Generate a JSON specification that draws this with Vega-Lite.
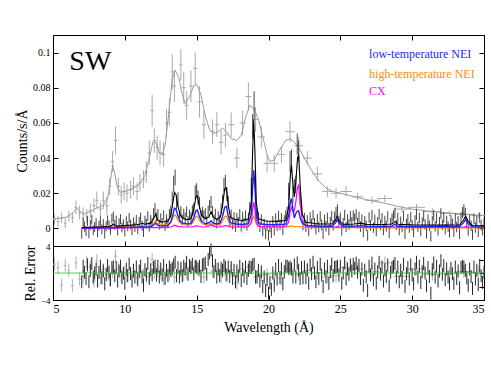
{
"$schema":"https://vega.github.io/schema/vega-lite/v6.json",
"background":"white",
"padding":{"left":15,"top":34,"right":5,"bottom":5},
"config":{"view":{"stroke":"#000","strokeWidth":1},"axis":{"domain":false,"grid":false,"tickColor":"#000","labelColor":"#000","titleColor":"#000","labelFont":"Liberation Serif","titleFont":"Liberation Serif","titleFontWeight":"normal","labelFontSize":11,"titleFontSize":14,"tickSize":-5,"labelPadding":8}},
"datasets":{
"mos":[
{"x":5.1,"y":0.005,"e":0.003,"xe":0.1,"r":1.3},{"x":5.35,"y":0.004,"e":0.003,"xe":0.1,"r":0.8},{"x":5.6,"y":0.006,"e":0.003,"xe":0.1,"r":-1.8},{"x":5.85,"y":0.003,"e":0.003,"xe":0.1,"r":1.1},{"x":6.1,"y":0.007,"e":0.003,"xe":0.1,"r":0.4},{"x":6.35,"y":0.006,"e":0.003,"xe":0.1,"r":-1.9},{"x":6.6,"y":0.012,"e":0.004,"xe":0.1,"r":1.5},{"x":6.85,"y":0.009,"e":0.004,"xe":0.1,"r":-0.9},
{"x":7.1,"y":0.008,"e":0.004,"xe":0.1,"r":-0.5},{"x":7.35,"y":0.007,"e":0.004,"xe":0.1,"r":1.6},{"x":7.6,"y":0.01,"e":0.004,"xe":0.12,"r":0.9},{"x":7.85,"y":0.013,"e":0.004,"xe":0.12,"r":-1.2},{"x":8.05,"y":0.016,"e":0.005,"xe":0.12,"r":1.8},{"x":8.3,"y":0.011,"e":0.004,"xe":0.12,"r":-0.8},{"x":8.5,"y":0.016,"e":0.005,"xe":0.12,"r":0.5},{"x":8.75,"y":0.013,"e":0.005,"xe":0.12,"r":-0.3},{"x":8.95,"y":0.024,"e":0.005,"xe":0.12,"r":-1.0},{"x":9.15,"y":0.038,"e":0.006,"xe":0.12,"r":0.2},{"x":9.35,"y":0.05,"e":0.008,"xe":0.12,"r":2.5},{"x":9.55,"y":0.024,"e":0.005,"xe":0.12,"r":0.6},{"x":9.75,"y":0.019,"e":0.005,"xe":0.12,"r":-0.4},{"x":9.95,"y":0.021,"e":0.005,"xe":0.12,"r":0.0},
{"x":10.15,"y":0.02,"e":0.005,"xe":0.12,"r":-0.4},{"x":10.4,"y":0.022,"e":0.005,"xe":0.12,"r":0.0},{"x":10.6,"y":0.024,"e":0.005,"xe":0.12,"r":0.2},{"x":10.85,"y":0.021,"e":0.005,"xe":0.12,"r":-0.7},{"x":11.05,"y":0.026,"e":0.005,"xe":0.12,"r":0.1},{"x":11.3,"y":0.028,"e":0.005,"xe":0.12,"r":-0.3},{"x":11.5,"y":0.032,"e":0.006,"xe":0.12,"r":-0.5},{"x":11.7,"y":0.043,"e":0.007,"xe":0.12,"r":-0.6},{"x":11.9,"y":0.067,"e":0.009,"xe":0.12,"r":2.0},{"x":12.05,"y":0.05,"e":0.007,"xe":0.12,"r":0.0},{"x":12.25,"y":0.046,"e":0.007,"xe":0.12,"r":0.3},{"x":12.45,"y":0.043,"e":0.007,"xe":0.12,"r":0.0},{"x":12.7,"y":0.042,"e":0.007,"xe":0.12,"r":-0.8},{"x":12.9,"y":0.06,"e":0.008,"xe":0.12,"r":0.3},
{"x":13.1,"y":0.066,"e":0.008,"xe":0.12,"r":-0.2},{"x":13.3,"y":0.089,"e":0.01,"xe":0.12,"r":0.4},{"x":13.45,"y":0.081,"e":0.009,"xe":0.12,"r":-0.6},{"x":13.9,"y":0.093,"e":0.009,"xe":0.12,"r":0.3},{"x":14.1,"y":0.08,"e":0.009,"xe":0.15,"r":-0.2},{"x":14.3,"y":0.07,"e":0.008,"xe":0.15,"r":0.0},{"x":14.6,"y":0.081,"e":0.009,"xe":0.15,"r":0.9},{"x":14.9,"y":0.091,"e":0.009,"xe":0.15,"r":1.0},{"x":15.2,"y":0.072,"e":0.009,"xe":0.15,"r":0.4},{"x":15.5,"y":0.059,"e":0.008,"xe":0.15,"r":-0.6},{"x":16.1,"y":0.055,"e":0.007,"xe":0.15,"r":0.3},{"x":16.4,"y":0.059,"e":0.007,"xe":0.15,"r":0.6},{"x":16.7,"y":0.049,"e":0.007,"xe":0.15,"r":-0.6},{"x":17.0,"y":0.053,"e":0.007,"xe":0.15,"r":-0.3},{"x":17.4,"y":0.059,"e":0.007,"xe":0.2,"r":0.4},{"x":17.8,"y":0.04,"e":0.006,"xe":0.2,"r":-1.5},{"x":18.2,"y":0.06,"e":0.007,"xe":0.2,"r":0.6},{"x":18.6,"y":0.075,"e":0.008,"xe":0.2,"r":0.9},{"x":19.1,"y":0.062,"e":0.007,"xe":0.2,"r":-0.6},
{"x":19.5,"y":0.052,"e":0.006,"xe":0.25,"r":-0.3},{"x":19.9,"y":0.037,"e":0.005,"xe":0.25,"r":-0.2},{"x":20.4,"y":0.037,"e":0.005,"xe":0.25,"r":-0.6},{"x":20.9,"y":0.042,"e":0.005,"xe":0.25,"r":-0.8},{"x":21.5,"y":0.055,"e":0.006,"xe":0.3,"r":0.6},{"x":22.1,"y":0.047,"e":0.005,"xe":0.3,"r":-0.2},{"x":22.7,"y":0.04,"e":0.004,"xe":0.3,"r":0.4},{"x":23.4,"y":0.031,"e":0.004,"xe":0.35,"r":0.0},{"x":24.1,"y":0.021,"e":0.003,"xe":0.35,"r":-0.6},{"x":24.7,"y":0.02,"e":0.003,"xe":0.35,"r":-0.4},{"x":25.4,"y":0.021,"e":0.003,"xe":0.4,"r":0.8},{"x":26.2,"y":0.018,"e":0.002,"xe":0.4,"r":0.6},{"x":27.2,"y":0.016,"e":0.002,"xe":0.5,"r":0.2},{"x":28.1,"y":0.017,"e":0.002,"xe":0.5,"r":1.5},{"x":29.3,"y":0.011,"e":0.002,"xe":0.6,"r":-0.5},{"x":30.3,"y":0.012,"e":0.002,"xe":0.6,"r":0.6},{"x":31.4,"y":0.0095,"e":0.002,"xe":0.6,"r":-0.2},{"x":32.6,"y":0.0085,"e":0.0015,"xe":0.6,"r":-0.1},{"x":33.6,"y":0.008,"e":0.0015,"xe":0.6,"r":0.2},{"x":34.6,"y":0.0073,"e":0.0015,"xe":0.5,"r":0.1}
],
"mosmod":[
{"x":5.0,"g":0.0055},{"x":5.5,"g":0.0058},{"x":6.0,"g":0.0065},{"x":6.4,"g":0.009},{"x":6.65,"g":0.0115},{"x":6.9,"g":0.0095},{"x":7.2,"g":0.0085},{"x":7.6,"g":0.0095},{"x":8.0,"g":0.0115},{"x":8.5,"g":0.013},{"x":8.8,"g":0.017},{"x":9.0,"g":0.027},{"x":9.15,"g":0.036},{"x":9.3,"g":0.031},{"x":9.5,"g":0.023},{"x":9.7,"g":0.0205},{"x":10.0,"g":0.021},{"x":10.5,"g":0.0225},{"x":11.0,"g":0.025},{"x":11.4,"g":0.03},{"x":11.7,"g":0.04},{"x":11.95,"g":0.049},{"x":12.15,"g":0.049},{"x":12.4,"g":0.043},{"x":12.6,"g":0.042},{"x":12.8,"g":0.047},{"x":13.05,"g":0.065},{"x":13.3,"g":0.085},{"x":13.5,"g":0.09},{"x":13.75,"g":0.086},{"x":14.0,"g":0.076},{"x":14.2,"g":0.071},{"x":14.5,"g":0.075},{"x":14.8,"g":0.081},{"x":15.0,"g":0.082},{"x":15.3,"g":0.076},{"x":15.6,"g":0.064},{"x":15.9,"g":0.056},{"x":16.2,"g":0.054},{"x":16.5,"g":0.055},{"x":16.8,"g":0.057},{"x":17.1,"g":0.055},{"x":17.4,"g":0.051},{"x":17.8,"g":0.05},{"x":18.1,"g":0.053},{"x":18.4,"g":0.063},{"x":18.7,"g":0.07},{"x":19.0,"g":0.068},{"x":19.3,"g":0.062},{"x":19.6,"g":0.052},{"x":19.9,"g":0.042},{"x":20.1,"g":0.038},{"x":20.4,"g":0.039},{"x":20.8,"g":0.045},{"x":21.2,"g":0.05},{"x":21.5,"g":0.051},{"x":21.8,"g":0.049},{"x":22.1,"g":0.046},{"x":22.5,"g":0.04},{"x":23.0,"g":0.033},{"x":23.5,"g":0.027},{"x":24.0,"g":0.023},{"x":24.5,"g":0.021},{"x":25.0,"g":0.02},{"x":25.5,"g":0.019},{"x":26.0,"g":0.018},{"x":27.0,"g":0.016},{"x":28.0,"g":0.0145},{"x":29.0,"g":0.0125},{"x":30.0,"g":0.011},{"x":31.0,"g":0.01},{"x":32.0,"g":0.0092},{"x":33.0,"g":0.0085},{"x":34.0,"g":0.0079},{"x":35.0,"g":0.0073}
],
"mod":[
{"x":7.0,"t":0.0005,"b":0.0002,"o":0.0003,"c":0.0001},{"x":8.0,"t":0.0008,"b":0.0003,"o":0.0005,"c":0.0002},{"x":9.0,"t":0.0012,"b":0.0004,"o":0.0007,"c":0.0002},{"x":9.2,"t":0.0025,"b":0.0005,"o":0.0018,"c":0.0003},{"x":9.4,"t":0.0013,"b":0.0005,"o":0.0007,"c":0.0002},{"x":10.0,"t":0.0016,"b":0.0006,"o":0.0008,"c":0.0003},{"x":11.0,"t":0.0022,"b":0.0008,"o":0.0011,"c":0.0004},{"x":11.2,"t":0.003,"b":0.0011,"o":0.0015,"c":0.0005},{"x":11.4,"t":0.0024,"b":0.0009,"o":0.0012,"c":0.0004},{"x":11.8,"t":0.003,"b":0.001,"o":0.0015,"c":0.0004},{"x":12.0,"t":0.0055,"b":0.002,"o":0.003,"c":0.0005},{"x":12.13,"t":0.008,"b":0.003,"o":0.0045,"c":0.0006},{"x":12.3,"t":0.0045,"b":0.0017,"o":0.0025,"c":0.0005},{"x":12.6,"t":0.0035,"b":0.0013,"o":0.0018,"c":0.0005},{"x":12.85,"t":0.0042,"b":0.0016,"o":0.0022,"c":0.0006},{"x":13.0,"t":0.004,"b":0.0016,"o":0.002,"c":0.0006},{"x":13.2,"t":0.0075,"b":0.0038,"o":0.003,"c":0.0008},{"x":13.35,"t":0.015,"b":0.008,"o":0.0058,"c":0.0014},{"x":13.45,"t":0.0205,"b":0.0115,"o":0.0078,"c":0.0018},{"x":13.55,"t":0.0195,"b":0.011,"o":0.0072,"c":0.0016},{"x":13.7,"t":0.0125,"b":0.007,"o":0.0045,"c":0.0012},{"x":13.85,"t":0.008,"b":0.0042,"o":0.003,"c":0.001},{"x":14.0,"t":0.006,"b":0.003,"o":0.0022,"c":0.0009},{"x":14.3,"t":0.005,"b":0.0026,"o":0.0018,"c":0.0008},{"x":14.6,"t":0.0055,"b":0.0028,"o":0.002,"c":0.0008},{"x":14.8,"t":0.011,"b":0.006,"o":0.004,"c":0.001},{"x":14.95,"t":0.018,"b":0.01,"o":0.0068,"c":0.0014},{"x":15.05,"t":0.0185,"b":0.0105,"o":0.007,"c":0.0014},{"x":15.2,"t":0.012,"b":0.0065,"o":0.0045,"c":0.0011},{"x":15.35,"t":0.0075,"b":0.004,"o":0.0028,"c":0.0009},{"x":15.6,"t":0.0055,"b":0.0026,"o":0.002,"c":0.0008},{"x":15.85,"t":0.0065,"b":0.0032,"o":0.0022,"c":0.0012},{"x":16.0,"t":0.0095,"b":0.0042,"o":0.0028,"c":0.0022},{"x":16.15,"t":0.0065,"b":0.003,"o":0.002,"c":0.0012},{"x":16.4,"t":0.005,"b":0.0025,"o":0.0017,"c":0.0008},{"x":16.65,"t":0.0065,"b":0.0033,"o":0.0022,"c":0.0009},{"x":16.8,"t":0.013,"b":0.0068,"o":0.004,"c":0.0012},{"x":16.95,"t":0.0225,"b":0.012,"o":0.0068,"c":0.0016},{"x":17.07,"t":0.023,"b":0.0125,"o":0.007,"c":0.0016},{"x":17.2,"t":0.013,"b":0.0068,"o":0.004,"c":0.0012},{"x":17.35,"t":0.0065,"b":0.0033,"o":0.002,"c":0.0009},{"x":17.7,"t":0.005,"b":0.0025,"o":0.0015,"c":0.0008},{"x":18.2,"t":0.0045,"b":0.0022,"o":0.0013,"c":0.0008},{"x":18.6,"t":0.0055,"b":0.0027,"o":0.0015,"c":0.001},{"x":18.8,"t":0.015,"b":0.008,"o":0.0028,"c":0.0035},{"x":18.9,"t":0.045,"b":0.024,"o":0.0055,"c":0.011},{"x":18.97,"t":0.062,"b":0.033,"o":0.007,"c":0.015},{"x":19.05,"t":0.045,"b":0.024,"o":0.0055,"c":0.011},{"x":19.15,"t":0.015,"b":0.008,"o":0.0025,"c":0.0035},{"x":19.3,"t":0.0055,"b":0.0027,"o":0.0012,"c":0.0012},{"x":19.8,"t":0.0042,"b":0.0022,"o":0.0009,"c":0.0009},{"x":20.5,"t":0.004,"b":0.0021,"o":0.0008,"c":0.0009},{"x":21.2,"t":0.0045,"b":0.0024,"o":0.0008,"c":0.001},{"x":21.4,"t":0.012,"b":0.007,"o":0.001,"c":0.0035},{"x":21.52,"t":0.03,"b":0.015,"o":0.0013,"c":0.01},{"x":21.6,"t":0.036,"b":0.017,"o":0.0015,"c":0.012},{"x":21.7,"t":0.025,"b":0.011,"o":0.0012,"c":0.0095},{"x":21.8,"t":0.018,"b":0.006,"o":0.001,"c":0.01},{"x":21.9,"t":0.026,"b":0.0085,"o":0.001,"c":0.015},{"x":22.02,"t":0.04,"b":0.01,"o":0.0011,"c":0.023},{"x":22.1,"t":0.042,"b":0.01,"o":0.0011,"c":0.025},{"x":22.2,"t":0.025,"b":0.006,"o":0.0009,"c":0.015},{"x":22.35,"t":0.008,"b":0.003,"o":0.0007,"c":0.004},{"x":22.6,"t":0.0035,"b":0.0017,"o":0.0006,"c":0.001},{"x":23.5,"t":0.0025,"b":0.0012,"o":0.0005,"c":0.0007},{"x":24.4,"t":0.0025,"b":0.0012,"o":0.0004,"c":0.0007},{"x":24.65,"t":0.0045,"b":0.003,"o":0.0005,"c":0.0008},{"x":24.78,"t":0.007,"b":0.005,"o":0.0006,"c":0.001},{"x":24.9,"t":0.0045,"b":0.003,"o":0.0005,"c":0.0008},{"x":25.2,"t":0.0023,"b":0.0012,"o":0.0004,"c":0.0007},{"x":26.0,"t":0.0025,"b":0.0013,"o":0.0004,"c":0.0007},{"x":26.4,"t":0.003,"b":0.0016,"o":0.0004,"c":0.0008},{"x":26.8,"t":0.0023,"b":0.0012,"o":0.0003,"c":0.0007},{"x":28.0,"t":0.0022,"b":0.0011,"o":0.0003,"c":0.0007},{"x":28.6,"t":0.0025,"b":0.0013,"o":0.0003,"c":0.0008},{"x":28.8,"t":0.004,"b":0.0025,"o":0.0004,"c":0.0009},{"x":29.0,"t":0.0024,"b":0.0012,"o":0.0003,"c":0.0007},{"x":30.0,"t":0.002,"b":0.001,"o":0.0003,"c":0.0006},{"x":32.0,"t":0.0019,"b":0.001,"o":0.0003,"c":0.0006},{"x":33.3,"t":0.002,"b":0.001,"o":0.0003,"c":0.0006},{"x":33.55,"t":0.0045,"b":0.003,"o":0.0003,"c":0.0008},{"x":33.73,"t":0.007,"b":0.005,"o":0.0004,"c":0.001},{"x":33.9,"t":0.004,"b":0.0026,"o":0.0003,"c":0.0008},{"x":34.2,"t":0.0017,"b":0.001,"o":0.0003,"c":0.0006},{"x":35.0,"t":0.0015,"b":0.0009,"o":0.0003,"c":0.0006}
],
"rgs":[
{"x":7.0,"y":-0.003,"e":0.0028,"r":-1.3},{"x":7.1,"y":0.0035,"e":0.0028,"r":1.0},{"x":7.2,"y":0.001,"e":0.0028,"r":0.1},{"x":7.3,"y":-0.0015,"e":0.0028,"r":-0.8},{"x":7.4,"y":0.0042,"e":0.0028,"r":1.2},{"x":7.5,"y":-0.0028,"e":0.0028,"r":-1.3},{"x":7.6,"y":0.002,"e":0.0028,"r":0.4},{"x":7.7,"y":0.005,"e":0.0028,"r":1.4},{"x":7.8,"y":-0.001,"e":0.0028,"r":-0.6},{"x":7.9,"y":0.0008,"e":0.0028,"r":0.0},
{"x":8.0,"y":0.0031,"e":0.0028,"r":0.6},{"x":8.1,"y":-0.0022,"e":0.0028,"r":-1.2},{"x":8.2,"y":0.0016,"e":0.0028,"r":0.1},{"x":8.3,"y":0.0044,"e":0.0028,"r":1.0},{"x":8.4,"y":-0.0005,"e":0.0028,"r":-0.7},{"x":8.5,"y":0.0025,"e":0.0028,"r":0.3},{"x":8.6,"y":-0.003,"e":0.0028,"r":-1.6},{"x":8.7,"y":0.0012,"e":0.0028,"r":-0.2},{"x":8.8,"y":0.0046,"e":0.0028,"r":1.1},{"x":8.9,"y":0.0018,"e":0.0028,"r":0.1},
{"x":9.0,"y":-0.0008,"e":0.0028,"r":-1.0},{"x":9.1,"y":0.0055,"e":0.0028,"r":0.8},{"x":9.2,"y":0.0068,"e":0.0028,"r":0.9},{"x":9.3,"y":0.002,"e":0.0028,"r":-0.4},{"x":9.4,"y":0.0045,"e":0.0028,"r":0.8},{"x":9.5,"y":-0.0012,"e":0.0028,"r":-1.2},{"x":9.6,"y":0.003,"e":0.0028,"r":0.3},{"x":9.7,"y":0.0052,"e":0.0028,"r":1.0},{"x":9.8,"y":0.0005,"e":0.0028,"r":-0.7},{"x":9.9,"y":0.0024,"e":0.0028,"r":0.0},
{"x":10.0,"y":-0.0018,"e":0.0028,"r":-1.5},{"x":10.1,"y":0.0041,"e":0.0028,"r":0.6},{"x":10.2,"y":0.0012,"e":0.0028,"r":-0.4},{"x":10.3,"y":0.006,"e":0.0028,"r":1.3},{"x":10.4,"y":0.0022,"e":0.0028,"r":-0.1},{"x":10.5,"y":-0.001,"e":0.0028,"r":-1.2},{"x":10.6,"y":0.0035,"e":0.0028,"r":0.4},{"x":10.7,"y":0.0008,"e":0.0028,"r":-0.6},{"x":10.8,"y":0.0049,"e":0.0028,"r":0.9},{"x":10.9,"y":-0.0004,"e":0.0028,"r":-1.0},
{"x":11.0,"y":0.0038,"e":0.0028,"r":0.3},{"x":11.1,"y":0.0062,"e":0.0028,"r":1.0},{"x":11.2,"y":0.0015,"e":0.0028,"r":-0.6},{"x":11.3,"y":-0.002,"e":0.0028,"r":-1.8},{"x":11.4,"y":0.0044,"e":0.0028,"r":0.5},{"x":11.5,"y":0.0026,"e":0.0028,"r":-0.2},{"x":11.6,"y":0.007,"e":0.0028,"r":1.4},{"x":11.7,"y":0.001,"e":0.0028,"r":-0.8},{"x":11.8,"y":0.0048,"e":0.0028,"r":0.5},{"x":11.9,"y":0.0032,"e":0.0028,"r":-0.3},
{"x":12.0,"y":0.0085,"e":0.003,"r":0.8},{"x":12.1,"y":0.0112,"e":0.0032,"r":1.0},{"x":12.2,"y":0.006,"e":0.003,"r":-0.3},{"x":12.3,"y":0.0081,"e":0.003,"r":1.0},{"x":12.4,"y":0.0022,"e":0.0028,"r":-0.6},{"x":12.5,"y":0.0058,"e":0.0028,"r":0.6},{"x":12.6,"y":0.003,"e":0.0028,"r":-0.3},{"x":12.7,"y":0.0075,"e":0.0028,"r":1.1},{"x":12.8,"y":0.0015,"e":0.0028,"r":-0.8},{"x":12.9,"y":0.0052,"e":0.0028,"r":0.4},
{"x":13.0,"y":0.0028,"e":0.0028,"r":-0.4},{"x":13.1,"y":0.008,"e":0.003,"r":0.9},{"x":13.2,"y":0.0095,"e":0.0035,"r":0.4},{"x":13.3,"y":0.017,"e":0.004,"r":0.7},{"x":13.4,"y":0.0255,"e":0.0045,"r":1.2},{"x":13.5,"y":0.029,"e":0.0045,"r":1.6},{"x":13.6,"y":0.015,"e":0.004,"r":-0.4},{"x":13.7,"y":0.0165,"e":0.004,"r":0.8},{"x":13.8,"y":0.0068,"e":0.0032,"r":-0.6},{"x":13.9,"y":0.0095,"e":0.0032,"r":0.7},
{"x":14.0,"y":0.0048,"e":0.003,"r":-0.4},{"x":14.1,"y":0.0082,"e":0.003,"r":1.0},{"x":14.2,"y":0.006,"e":0.003,"r":0.6},{"x":14.3,"y":0.0095,"e":0.003,"r":1.6},{"x":14.4,"y":0.004,"e":0.003,"r":-0.2},{"x":14.5,"y":0.0078,"e":0.003,"r":1.1},{"x":14.6,"y":0.0062,"e":0.003,"r":0.8},{"x":14.7,"y":0.01,"e":0.0032,"r":1.3},{"x":14.8,"y":0.011,"e":0.0035,"r":-0.1},{"x":14.9,"y":0.0205,"e":0.004,"r":1.0},
{"x":15.0,"y":0.0215,"e":0.0042,"r":0.9},{"x":15.1,"y":0.0175,"e":0.004,"r":0.6},{"x":15.2,"y":0.0145,"e":0.0035,"r":1.0},{"x":15.3,"y":0.007,"e":0.0032,"r":-0.5},{"x":15.4,"y":0.0092,"e":0.003,"r":1.2},{"x":15.5,"y":0.0072,"e":0.003,"r":1.3},{"x":15.6,"y":0.0085,"e":0.003,"r":1.5},{"x":15.7,"y":0.004,"e":0.003,"r":-0.2},{"x":15.8,"y":0.01,"e":0.003,"r":2.0},{"x":15.9,"y":0.013,"e":0.0032,"r":3.0},
{"x":16.0,"y":0.015,"e":0.0035,"r":3.4},{"x":16.1,"y":0.0095,"e":0.0032,"r":1.8},{"x":16.2,"y":0.0048,"e":0.003,"r":0.2},{"x":16.3,"y":0.0082,"e":0.003,"r":1.1},{"x":16.4,"y":0.003,"e":0.003,"r":-0.6},{"x":16.5,"y":0.0068,"e":0.003,"r":0.6},{"x":16.6,"y":0.0045,"e":0.003,"r":-0.4},{"x":16.7,"y":0.011,"e":0.0032,"r":0.7},{"x":16.8,"y":0.0155,"e":0.0038,"r":0.4},{"x":16.9,"y":0.0245,"e":0.0042,"r":1.1},
{"x":17.0,"y":0.026,"e":0.0045,"r":0.8},{"x":17.1,"y":0.0195,"e":0.004,"r":-0.3},{"x":17.2,"y":0.015,"e":0.0035,"r":0.9},{"x":17.3,"y":0.004,"e":0.003,"r":-0.5},{"x":17.4,"y":0.0078,"e":0.003,"r":0.8},{"x":17.5,"y":0.0025,"e":0.003,"r":-0.8},{"x":17.6,"y":0.0062,"e":0.003,"r":0.4},{"x":17.7,"y":0.001,"e":0.003,"r":-1.3},{"x":17.8,"y":0.0058,"e":0.003,"r":0.3},{"x":17.9,"y":0.0035,"e":0.003,"r":-0.4},
{"x":18.0,"y":0.008,"e":0.003,"r":1.0},{"x":18.1,"y":0.0012,"e":0.003,"r":-1.1},{"x":18.2,"y":0.0066,"e":0.003,"r":0.6},{"x":18.3,"y":0.003,"e":0.003,"r":-0.5},{"x":18.4,"y":0.0072,"e":0.003,"r":0.9},{"x":18.5,"y":0.0018,"e":0.003,"r":-0.8},{"x":18.6,"y":0.006,"e":0.003,"r":0.4},{"x":18.7,"y":0.0115,"e":0.0035,"r":0.9},{"x":18.8,"y":0.024,"e":0.005,"r":0.8},{"x":18.9,"y":0.058,"e":0.007,"r":1.2},
{"x":19.0,"y":0.07,"e":0.008,"r":1.3},{"x":19.1,"y":0.027,"e":0.005,"r":-0.6},{"x":19.2,"y":0.008,"e":0.0035,"r":-0.6},{"x":19.3,"y":0.0062,"e":0.003,"r":0.4},{"x":19.4,"y":0.001,"e":0.003,"r":-1.2},{"x":19.5,"y":0.005,"e":0.003,"r":0.2},{"x":19.6,"y":-0.0015,"e":0.003,"r":-2.0},{"x":19.7,"y":0.0025,"e":0.003,"r":-0.6},{"x":19.8,"y":-0.003,"e":0.003,"r":-2.6},{"x":19.9,"y":0.0015,"e":0.003,"r":-1.0},
{"x":20.0,"y":-0.004,"e":0.003,"r":-3.0},{"x":20.1,"y":0.0008,"e":0.003,"r":-1.4},{"x":20.2,"y":-0.0025,"e":0.003,"r":-2.4},{"x":20.3,"y":0.004,"e":0.003,"r":0.0},{"x":20.4,"y":-0.001,"e":0.003,"r":-1.8},{"x":20.5,"y":0.0055,"e":0.003,"r":0.6},{"x":20.6,"y":0.0015,"e":0.003,"r":-0.9},{"x":20.7,"y":0.007,"e":0.003,"r":1.1},{"x":20.8,"y":0.002,"e":0.003,"r":-0.7},{"x":20.9,"y":0.0058,"e":0.003,"r":0.6},
{"x":21.0,"y":-0.0008,"e":0.003,"r":-1.6},{"x":21.1,"y":0.0045,"e":0.003,"r":0.2},{"x":21.2,"y":0.0072,"e":0.003,"r":1.0},{"x":21.3,"y":0.009,"e":0.0035,"r":1.0},{"x":21.4,"y":0.021,"e":0.005,"r":0.7},{"x":21.5,"y":0.038,"e":0.006,"r":0.9},{"x":21.6,"y":0.039,"e":0.006,"r":0.6},{"x":21.7,"y":0.0195,"e":0.005,"r":-0.6},{"x":21.8,"y":0.023,"e":0.005,"r":1.2},{"x":21.9,"y":0.025,"e":0.005,"r":-0.6},
{"x":22.0,"y":0.048,"e":0.006,"r":1.5},{"x":22.1,"y":0.044,"e":0.006,"r":0.4},{"x":22.2,"y":0.018,"e":0.005,"r":-0.8},{"x":22.3,"y":0.0105,"e":0.0035,"r":0.8},{"x":22.4,"y":0.002,"e":0.003,"r":-0.7},{"x":22.5,"y":0.0058,"e":0.003,"r":0.9},{"x":22.6,"y":0.001,"e":0.003,"r":-0.7},{"x":22.7,"y":0.0045,"e":0.003,"r":0.5},{"x":22.8,"y":-0.0015,"e":0.003,"r":-1.5},{"x":22.9,"y":0.0062,"e":0.003,"r":1.2},
{"x":23.0,"y":0.0025,"e":0.003,"r":-0.1},{"x":23.1,"y":0.0075,"e":0.003,"r":1.6},{"x":23.2,"y":0.003,"e":0.003,"r":0.0},{"x":23.3,"y":-0.0005,"e":0.003,"r":-1.3},{"x":23.4,"y":0.0052,"e":0.003,"r":0.8},{"x":23.5,"y":0.0008,"e":0.003,"r":-0.8},{"x":23.6,"y":0.0068,"e":0.003,"r":1.3},{"x":23.7,"y":0.002,"e":0.003,"r":-0.3},{"x":23.8,"y":-0.003,"e":0.003,"r":-2.0},{"x":23.9,"y":0.0048,"e":0.003,"r":0.6},
{"x":24.0,"y":0.0012,"e":0.003,"r":-0.6},{"x":24.1,"y":0.006,"e":0.003,"r":1.0},{"x":24.2,"y":-0.001,"e":0.003,"r":-1.5},{"x":24.3,"y":0.0035,"e":0.003,"r":0.2},{"x":24.4,"y":0.007,"e":0.003,"r":1.3},{"x":24.5,"y":0.0018,"e":0.003,"r":-0.4},{"x":24.6,"y":0.0065,"e":0.003,"r":0.8},{"x":24.7,"y":0.009,"e":0.0032,"r":0.9},{"x":24.8,"y":0.0105,"e":0.0032,"r":1.0},{"x":24.9,"y":0.0042,"e":0.003,"r":-0.3},
{"x":25.0,"y":0.006,"e":0.003,"r":1.0},{"x":25.1,"y":-0.0012,"e":0.003,"r":-1.5},{"x":25.2,"y":0.003,"e":0.003,"r":0.0},{"x":25.3,"y":0.0075,"e":0.003,"r":1.5},{"x":25.4,"y":0.0008,"e":0.003,"r":-0.9},{"x":25.5,"y":0.005,"e":0.003,"r":0.6},{"x":25.6,"y":0.0022,"e":0.003,"r":-0.2},{"x":25.7,"y":0.0068,"e":0.003,"r":1.2},{"x":25.8,"y":0.0035,"e":0.003,"r":0.3},{"x":25.9,"y":0.0072,"e":0.003,"r":1.3},
{"x":26.0,"y":0.0055,"e":0.003,"r":0.7},{"x":26.1,"y":0.008,"e":0.003,"r":1.5},{"x":26.2,"y":0.003,"e":0.003,"r":0.1},{"x":26.3,"y":0.0065,"e":0.003,"r":1.1},{"x":26.4,"y":0.001,"e":0.003,"r":-0.8},{"x":26.5,"y":0.005,"e":0.003,"r":0.6},{"x":26.6,"y":-0.002,"e":0.003,"r":-1.8},{"x":26.7,"y":0.004,"e":0.003,"r":0.4},{"x":26.8,"y":0.0015,"e":0.003,"r":-0.6},{"x":26.9,"y":-0.004,"e":0.003,"r":-2.6},
{"x":27.0,"y":0.0062,"e":0.003,"r":1.0},{"x":27.1,"y":0.0018,"e":0.003,"r":-0.3},{"x":27.2,"y":0.0075,"e":0.003,"r":1.5},{"x":27.3,"y":0.0005,"e":0.003,"r":-1.0},{"x":27.4,"y":0.0048,"e":0.003,"r":0.6},{"x":27.5,"y":-0.0015,"e":0.003,"r":-1.5},{"x":27.6,"y":0.0035,"e":0.003,"r":0.2},{"x":27.7,"y":0.008,"e":0.003,"r":1.6},{"x":27.8,"y":0.002,"e":0.003,"r":-0.2},{"x":27.9,"y":0.0058,"e":0.003,"r":0.9},
{"x":28.0,"y":-0.0008,"e":0.003,"r":-1.2},{"x":28.1,"y":0.0042,"e":0.003,"r":0.5},{"x":28.2,"y":0.0012,"e":0.003,"r":-0.5},{"x":28.3,"y":0.0068,"e":0.003,"r":1.2},{"x":28.4,"y":-0.0025,"e":0.003,"r":-1.9},{"x":28.5,"y":0.003,"e":0.003,"r":0.1},{"x":28.6,"y":0.0055,"e":0.003,"r":0.8},{"x":28.7,"y":0.0072,"e":0.003,"r":1.0},{"x":28.8,"y":0.0088,"e":0.003,"r":1.4},{"x":28.9,"y":0.002,"e":0.003,"r":-0.6},
{"x":29.0,"y":0.006,"e":0.003,"r":0.9},{"x":29.1,"y":-0.001,"e":0.003,"r":-1.3},{"x":29.2,"y":0.0038,"e":0.003,"r":0.4},{"x":29.3,"y":0.0008,"e":0.003,"r":-0.7},{"x":29.4,"y":0.007,"e":0.003,"r":1.3},{"x":29.5,"y":-0.003,"e":0.003,"r":-2.0},{"x":29.6,"y":0.0025,"e":0.003,"r":-0.1},{"x":29.7,"y":0.0052,"e":0.003,"r":0.8},{"x":29.8,"y":0.0005,"e":0.003,"r":-0.9},{"x":29.9,"y":0.0065,"e":0.003,"r":1.2},
{"x":30.0,"y":0.0018,"e":0.003,"r":-0.3},{"x":30.1,"y":-0.002,"e":0.003,"r":-1.6},{"x":30.2,"y":0.0045,"e":0.003,"r":0.6},{"x":30.3,"y":0.0078,"e":0.003,"r":1.6},{"x":30.4,"y":0.001,"e":0.003,"r":-0.6},{"x":30.5,"y":0.006,"e":0.003,"r":1.0},{"x":30.6,"y":-0.0015,"e":0.003,"r":-1.4},{"x":30.7,"y":0.0032,"e":0.003,"r":0.2},{"x":30.8,"y":0.007,"e":0.003,"r":1.4},{"x":30.9,"y":0.0022,"e":0.003,"r":0.0},
{"x":31.0,"y":-0.0028,"e":0.003,"r":-1.9},{"x":31.1,"y":0.005,"e":0.003,"r":0.8},{"x":31.2,"y":0.0015,"e":0.003,"r":-0.5},{"x":31.3,"y":-0.0045,"e":0.003,"r":-3.0},{"x":31.4,"y":0.004,"e":0.003,"r":0.5},{"x":31.5,"y":0.0075,"e":0.003,"r":1.5},{"x":31.6,"y":0.0012,"e":0.003,"r":-0.6},{"x":31.7,"y":0.0058,"e":0.003,"r":1.0},{"x":31.8,"y":-0.001,"e":0.003,"r":-1.2},{"x":31.9,"y":0.0035,"e":0.003,"r":0.3},
{"x":32.0,"y":0.0085,"e":0.003,"r":1.8},{"x":32.1,"y":0.002,"e":0.003,"r":-0.2},{"x":32.2,"y":0.006,"e":0.003,"r":1.1},{"x":32.3,"y":-0.0005,"e":0.003,"r":-1.0},{"x":32.4,"y":0.0042,"e":0.003,"r":0.6},{"x":32.5,"y":0.001,"e":0.003,"r":-0.6},{"x":32.6,"y":-0.0022,"e":0.003,"r":-1.6},{"x":32.7,"y":0.0048,"e":0.003,"r":0.7},{"x":32.8,"y":0.0025,"e":0.003,"r":-0.1},{"x":32.9,"y":-0.0018,"e":0.003,"r":-1.5},
{"x":33.0,"y":0.0055,"e":0.003,"r":0.9},{"x":33.1,"y":0.0008,"e":0.003,"r":-0.8},{"x":33.2,"y":0.004,"e":0.003,"r":0.3},{"x":33.3,"y":-0.003,"e":0.003,"r":-2.2},{"x":33.4,"y":0.0062,"e":0.003,"r":0.8},{"x":33.5,"y":0.009,"e":0.0032,"r":1.0},{"x":33.6,"y":0.0105,"e":0.0032,"r":0.9},{"x":33.7,"y":0.0085,"e":0.0032,"r":0.4},{"x":33.8,"y":0.003,"e":0.003,"r":-0.7},{"x":33.9,"y":-0.0012,"e":0.003,"r":-1.8},
{"x":34.0,"y":0.0048,"e":0.003,"r":0.6},{"x":34.1,"y":0.0015,"e":0.003,"r":-0.5},{"x":34.2,"y":-0.0035,"e":0.003,"r":-2.3},{"x":34.3,"y":0.0055,"e":0.003,"r":0.9},{"x":34.4,"y":0.0005,"e":0.003,"r":-0.9},{"x":34.5,"y":0.004,"e":0.003,"r":0.4},{"x":34.6,"y":-0.002,"e":0.003,"r":-1.7},{"x":34.7,"y":0.0062,"e":0.003,"r":1.1},{"x":34.8,"y":0.0018,"e":0.003,"r":-0.4},{"x":34.9,"y":-0.001,"e":0.003,"r":-1.4},{"x":35.0,"y":0.003,"e":0.003,"r":0.1}
]
},
"bounds":"flush",
"spacing":0,
"vconcat":[
{"width":431,"height":211,
 "resolve":{"axis":{"x":"independent","y":"independent"}},
 "layer":[
 {"encoding":{"x":{"field":"x","type":"quantitative","title":null,"scale":{"domain":[5,35],"nice":false,"zero":false},"axis":{"values":[5,10,15,20,25,30,35],"labels":false,"title":null}}},
  "layer":[
  {"data":{"name":"mos"},"mark":{"type":"errorbar","color":"#a8a8a8","thickness":1,"ticks":false},"encoding":{"y":{"field":"y","type":"quantitative","title":"Counts/s/Å","scale":{"domain":[-0.01,0.11],"nice":false,"zero":false},"axis":{"values":[0,0.02,0.04,0.06,0.08,0.1],"format":"~g","title":"Counts/s/Å","labelFontSize":10,"titlePadding":3}},"yError":{"field":"e"}}},
  {"data":{"name":"mos"},"mark":{"type":"errorbar","color":"#a8a8a8","thickness":1,"ticks":false},"encoding":{"y":{"field":"y","type":"quantitative","title":"Counts/s/Å"},"xError":{"field":"xe"}}},
  {"data":{"name":"mosmod"},"mark":{"type":"line","color":"#9a9a9a","strokeWidth":1},"encoding":{"y":{"field":"g","type":"quantitative","title":"Counts/s/Å"}}},
  {"data":{"name":"rgs"},"mark":{"type":"errorbar","color":"#303030","thickness":0.9,"ticks":false},"encoding":{"y":{"field":"y","type":"quantitative","title":"Counts/s/Å"},"yError":{"field":"e"}}},
  {"data":{"name":"mod"},"mark":{"type":"line","color":"#ff8c00","strokeWidth":1.2},"encoding":{"y":{"field":"o","type":"quantitative","title":"Counts/s/Å"}}},
  {"data":{"name":"mod"},"mark":{"type":"line","color":"#ff00ff","strokeWidth":1.2},"encoding":{"y":{"field":"c","type":"quantitative","title":"Counts/s/Å"}}},
  {"data":{"name":"mod"},"mark":{"type":"line","color":"#1f1fff","strokeWidth":1.4},"encoding":{"y":{"field":"b","type":"quantitative","title":"Counts/s/Å"}}},
  {"data":{"name":"mod"},"mark":{"type":"line","color":"#000000","strokeWidth":1.1},"encoding":{"y":{"field":"t","type":"quantitative","title":"Counts/s/Å"}}},
  {"data":{"values":[{"x":27.0,"y":0.0992,"t":"low-temperature NEI"},{"x":27.0,"y":0.0881,"t":"high-temperature NEI"},{"x":27.0,"y":0.078,"t":"CX"}]},"mark":{"type":"text","font":"Liberation Serif","fontSize":12,"align":"left","baseline":"middle"},"encoding":{"y":{"field":"y","type":"quantitative","title":"Counts/s/Å"},"text":{"field":"t"},"color":{"field":"t","type":"nominal","scale":{"domain":["low-temperature NEI","high-temperature NEI","CX"],"range":["#1f1fff","#ff8c00","#ff00ff"]},"legend":null}}}
  ]},
 {"data":{"values":[{"x":7.6,"y":0.0949,"t":"SW"}]},"mark":{"type":"text","font":"Liberation Serif","fontSize":28,"align":"center","baseline":"middle","color":"#000"},"encoding":{"x":{"field":"x","type":"quantitative","title":null,"axis":{"orient":"top","values":[5,10,15,20,25,30,35],"labels":false,"title":null}},"y":{"field":"y","type":"quantitative","title":null,"axis":{"orient":"right","values":[0,0.02,0.04,0.06,0.08,0.1],"labels":false,"title":null}},"text":{"field":"t"}}}
 ]},
{"width":431,"height":54,
 "resolve":{"axis":{"y":"independent"}},
 "layer":[
 {"encoding":{"x":{"field":"x","type":"quantitative","title":"Wavelength (Å)","scale":{"domain":[5,35],"nice":false,"zero":false},"axis":{"values":[5,10,15,20,25,30,35],"title":"Wavelength (Å)","labelFontSize":12,"titlePadding":6}}},
  "layer":[
  {"data":{"name":"mos"},"mark":{"type":"tick","orient":"vertical","color":"#b0b0b0","opacity":1,"thickness":1,"size":13},"encoding":{"y":{"field":"r","type":"quantitative","title":"Rel. Error","scale":{"domain":[-4,4],"nice":false},"axis":{"values":[-4,-2,0,2,4],"title":"Rel. Error","labelFontSize":9,"titlePadding":3}}}},
  {"data":{"name":"mos"},"mark":{"type":"errorbar","color":"#b0b0b0","thickness":1,"ticks":false},"encoding":{"y":{"field":"r","type":"quantitative","title":"Rel. Error"},"xError":{"field":"xe"}}},
  {"data":{"name":"rgs"},"mark":{"type":"tick","orient":"vertical","color":"#262626","opacity":1,"thickness":1,"size":13},"encoding":{"y":{"field":"r","type":"quantitative","title":"Rel. Error"}}}
  ]},
 {"data":{"values":[{"x":5,"z":0},{"x":35,"z":0}]},"mark":{"type":"line","color":"#33bb33","strokeWidth":0.8},"encoding":{"x":{"field":"x","type":"quantitative","title":"Wavelength (Å)"},"y":{"field":"z","type":"quantitative","title":null,"axis":{"orient":"right","values":[-4,-2,0,2,4],"labels":false,"title":null}}}}
 ]}
]
}
